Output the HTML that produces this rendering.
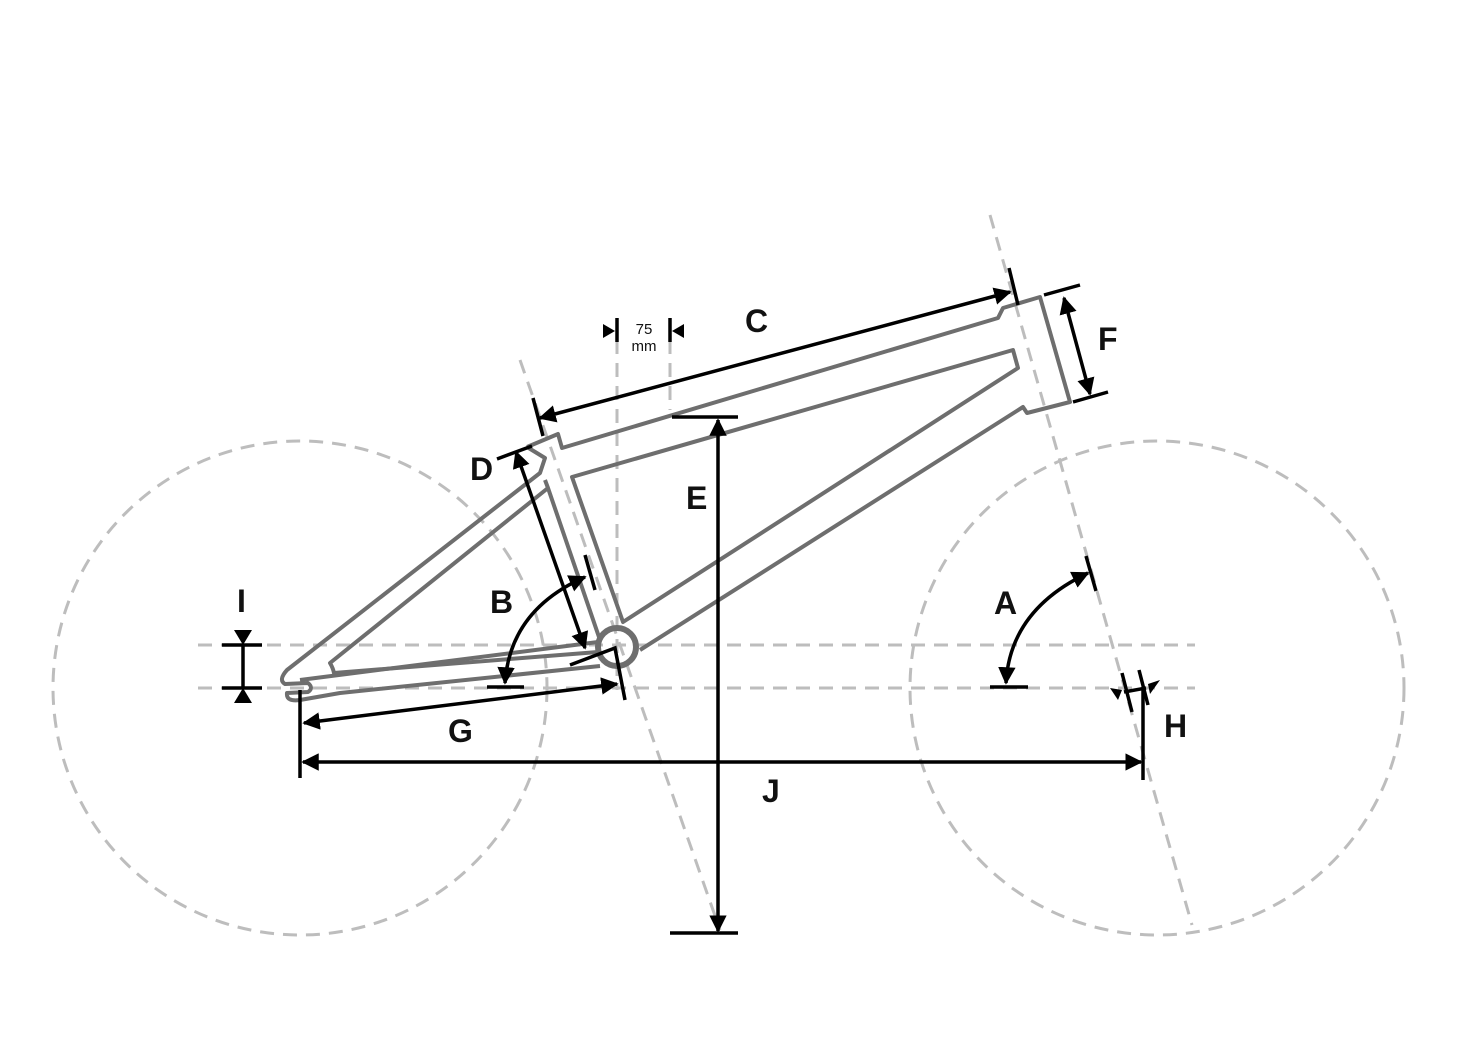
<!DOCTYPE html>
<html><head><meta charset="utf-8"><style>
html,body{margin:0;padding:0;background:#fff;}
svg{display:block}
text{font-family:"Liberation Sans",sans-serif;font-weight:bold;fill:#111}
</style></head><body>
<svg width="1458" height="1042" viewBox="0 0 1458 1042" xmlns="http://www.w3.org/2000/svg">
<defs>
<marker id="ar" viewBox="0 0 10 10" refX="9" refY="5" markerWidth="5" markerHeight="5" orient="auto-start-reverse" markerUnits="strokeWidth">
<path d="M0,0 L10,5 L0,10 z" fill="#000"/></marker>
</defs>
<!-- dashed guides -->
<g fill="none" stroke="#bdbdbd" stroke-width="3" stroke-dasharray="14,9">
<circle cx="300" cy="688" r="247"/>
<circle cx="1157" cy="688" r="247"/>
<line x1="198" y1="645" x2="1195" y2="645"/>
<line x1="198" y1="688" x2="1195" y2="688"/>
<line x1="990" y1="215" x2="1192" y2="925"/>
<line x1="520" y1="360" x2="720" y2="930"/>
<line x1="617" y1="340" x2="617" y2="690"/>
<line x1="670" y1="340" x2="670" y2="410"/>
</g>
<!-- frame -->
<g fill="none" stroke="#6e6e6e" stroke-width="4" stroke-linejoin="round">
<!-- top tube + head tube + down tube outer -->
<path d="M527,447 L558,434 L562,448 L998,318 L1003,308 L1040,297 L1070,402 L1027,413 L1023,407 L640,650"/>
<!-- inner main triangle -->
<path d="M572,477 L1013,350 L1018,368 L623,622 Z"/>
<!-- seat tube left + seat stay outer -->
<path d="M527,447 L545,458 L540,473 L287,670 Q278,680 285,684 L308,683 Q314,688 308,692 L287,693 Q286,702 300,700 L340,693 L600,666"/>
<!-- seat tube right edge to bb -->
<path d="M545,480 L548,488 L600,640"/>
<!-- inner rear triangle -->
<path d="M548,488 L330,663 Q333,668 334,673 L598,652"/>
<path d="M300,680 L598,642"/>
<circle cx="617" cy="647" r="19" stroke-width="6"/>
</g>
<!-- dimensions -->
<g fill="none" stroke="#000" stroke-width="3.5">
<!-- C -->
<line x1="540" y1="418" x2="1010" y2="292" marker-start="url(#ar)" marker-end="url(#ar)"/>
<line x1="533" y1="398" x2="543" y2="436"/>
<line x1="1009" y1="268" x2="1018" y2="305"/>
<!-- 75mm -->
<line x1="617" y1="318" x2="617" y2="342"/>
<line x1="670" y1="318" x2="670" y2="342"/>
<!-- D -->
<line x1="516" y1="452" x2="585" y2="648" marker-start="url(#ar)" marker-end="url(#ar)"/>
<line x1="497" y1="459" x2="532" y2="446"/>
<polyline points="570,665 615,648 625,700"/>
<!-- E -->
<line x1="718" y1="420" x2="718" y2="931" marker-start="url(#ar)" marker-end="url(#ar)"/>
<line x1="672" y1="417" x2="738" y2="417"/>
<line x1="670" y1="933" x2="738" y2="933"/>
<!-- F -->
<line x1="1064" y1="298" x2="1090" y2="394" marker-start="url(#ar)" marker-end="url(#ar)"/>
<line x1="1044" y1="295" x2="1080" y2="285"/>
<line x1="1073" y1="402" x2="1108" y2="392"/>
<!-- B -->
<path d="M505,683 Q510,610 585,577" marker-start="url(#ar)" marker-end="url(#ar)"/>
<line x1="585" y1="555" x2="595" y2="590"/>
<line x1="487" y1="687" x2="524" y2="687"/>
<!-- A -->
<path d="M1006,683 Q1010,610 1088,573" marker-start="url(#ar)" marker-end="url(#ar)"/>
<line x1="1086" y1="556" x2="1096" y2="591"/>
<line x1="990" y1="687" x2="1028" y2="687"/>
<!-- G -->
<line x1="304" y1="723" x2="617" y2="684" marker-start="url(#ar)" marker-end="url(#ar)"/>
<!-- J -->
<line x1="303" y1="762" x2="1141" y2="762" marker-start="url(#ar)" marker-end="url(#ar)"/>
<line x1="300" y1="690" x2="300" y2="778"/>
<line x1="1143" y1="688" x2="1143" y2="780"/>
<!-- H -->
<line x1="1122" y1="673" x2="1132" y2="712"/>
<line x1="1139" y1="670" x2="1148" y2="705"/>
<line x1="1124" y1="692" x2="1146" y2="688"/>
<!-- I -->
<line x1="243" y1="645" x2="243" y2="688"/>
<line x1="222" y1="645" x2="262" y2="645"/>
<line x1="222" y1="688" x2="262" y2="688"/>
</g>
<g fill="#000">
<path d="M234,630 L252,630 L243,645 Z"/>
<path d="M234,703 L252,703 L243,688 Z"/>
<path d="M603,324 L603,338 L615,331 Z"/>
<path d="M684,324 L684,338 L672,331 Z"/>
<path d="M1110,688 L1118,700 L1122,690 Z"/>
<path d="M1160,680 L1148,684 L1150,694 Z"/>
</g>
<!-- labels -->
<text x="745" y="332" font-size="32">C</text>
<text x="470" y="480" font-size="32">D</text>
<text x="686" y="509" font-size="32">E</text>
<text x="1098" y="350" font-size="32">F</text>
<text x="490" y="613" font-size="32">B</text>
<text x="994" y="614" font-size="32">A</text>
<text x="448" y="742" font-size="32">G</text>
<text x="762" y="802" font-size="32">J</text>
<text x="1164" y="737" font-size="32">H</text>
<text x="237" y="612" font-size="32">I</text>
<text x="644" y="334" font-size="15" font-weight="normal" text-anchor="middle" style="font-weight:normal">75</text>
<text x="644" y="351" font-size="15" text-anchor="middle" style="font-weight:normal">mm</text>
</svg>
</body></html>
